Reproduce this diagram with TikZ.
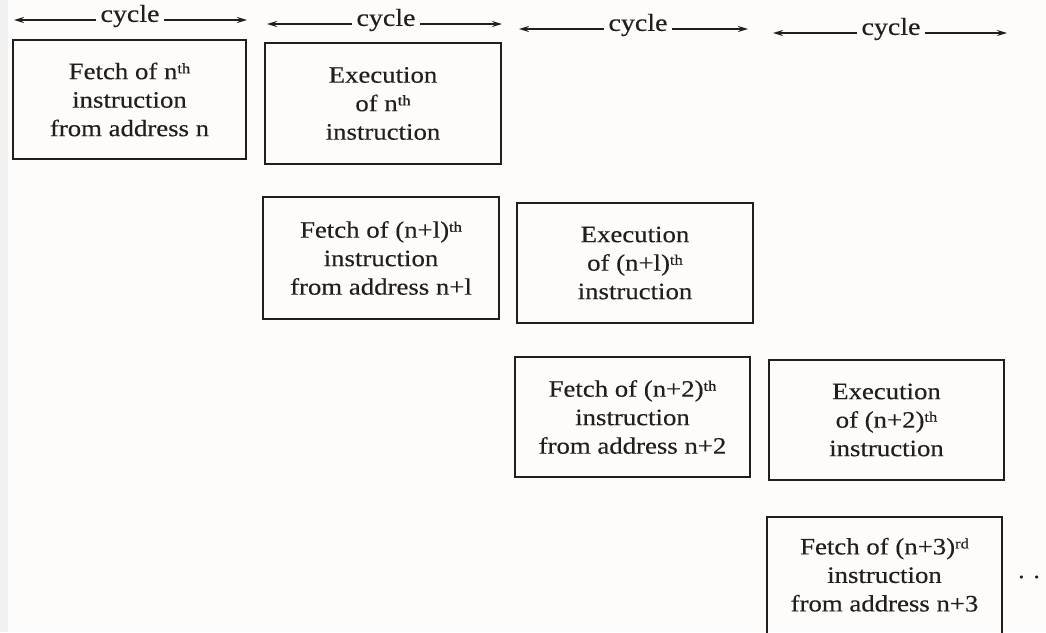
\documentclass[tikz,border=0pt]{standalone}
\usepackage{fontspec}
\setmainfont[FakeStretch=1.14, FakeBold=0.35]{Liberation Serif}
\usetikzlibrary{arrows.meta}
\definecolor{ink}{HTML}{221E1C}
\definecolor{paper}{HTML}{FDFCFA}
\tikzset{
  stagebox/.style={draw=ink, line width=1.7pt, text=ink, align=center,
    inner sep=0pt, font=\fontsize{23.5}{28.5}\selectfont},
  cyclelabel/.style={text=ink, inner sep=4pt, font=\fontsize{24.5}{26}\selectfont},
  cyclearrow/.style={draw=ink, line width=2.1pt, -{Stealth[length=10pt,width=6pt]}},
}
\newcommand{\ordsup}[1]{\raisebox{0.55ex}{\fontsize{14.5}{14.5}\selectfont #1}}
\begin{document}
\begin{tikzpicture}[x=1pt, y=-1pt]
  \fill[paper] (0,0) rectangle (1046,632);
  \fill[gray!12] (0,0) rectangle (8,632);
  \useasboundingbox (0,0) rectangle (1046,632);
  \begin{scope}
  \clip (0,0) rectangle (1046,632);

  % pipeline stages: one column per machine cycle
  \node[stagebox, minimum width=233pt, minimum height=119pt] (f0) at (129.5,99.5)
    {Fetch of n\ordsup{th}\\instruction\\from address n};
  \node[stagebox, minimum width=236pt, minimum height=121pt] (e0) at (383,103.5)
    {Execution\\of n\ordsup{th}\\instruction};
  \node[stagebox, minimum width=236pt, minimum height=122pt] (f1) at (381,258)
    {Fetch of (n+l)\ordsup{th}\\instruction\\from address n+l};
  \node[stagebox, minimum width=236pt, minimum height=120pt] (e1) at (635,263)
    {Execution\\of (n+l)\ordsup{th}\\instruction};
  \node[stagebox, minimum width=235pt, minimum height=120pt] (f2) at (632.5,417)
    {Fetch of (n+2)\ordsup{th}\\instruction\\from address n+2};
  \node[stagebox, minimum width=235pt, minimum height=120pt] (e2) at (886.5,420)
    {Execution\\of (n+2)\ordsup{th}\\instruction};
  \node[stagebox, minimum width=235pt, minimum height=124pt] (f3) at (884.5,579)
    {};
  \node[stagebox, draw=none, anchor=north] (f3t) at (884.5,537)
    {Fetch of (n+3)\ordsup{rd}\\instruction\\from address n+3};
  \node[text=ink, font=\fontsize{23}{26}\selectfont] (more) at (1029,577) {. .};

  % cycle markers above the columns
  \node[cyclelabel] (ca) at (130,16) {cycle};
  \coordinate (cal) at (14,20);  \coordinate (car) at (247,20);
  \node[cyclelabel] (cb) at (386,20) {cycle};
  \coordinate (cbl) at (267,24); \coordinate (cbr) at (502,24);
  \node[cyclelabel] (cc) at (638,25) {cycle};
  \coordinate (ccl) at (519,29); \coordinate (ccr) at (748,29);
  \node[cyclelabel] (cd) at (891,29) {cycle};
  \coordinate (cdl) at (773,33); \coordinate (cdr) at (1007,33);
  \foreach \k in {ca,cb,cc,cd} {
    \draw[cyclearrow] (\k.west |- \k l) -- (\k l);
    \draw[cyclearrow] (\k.east |- \k r) -- (\k r);
  }
  \end{scope}
\end{tikzpicture}
\end{document}
